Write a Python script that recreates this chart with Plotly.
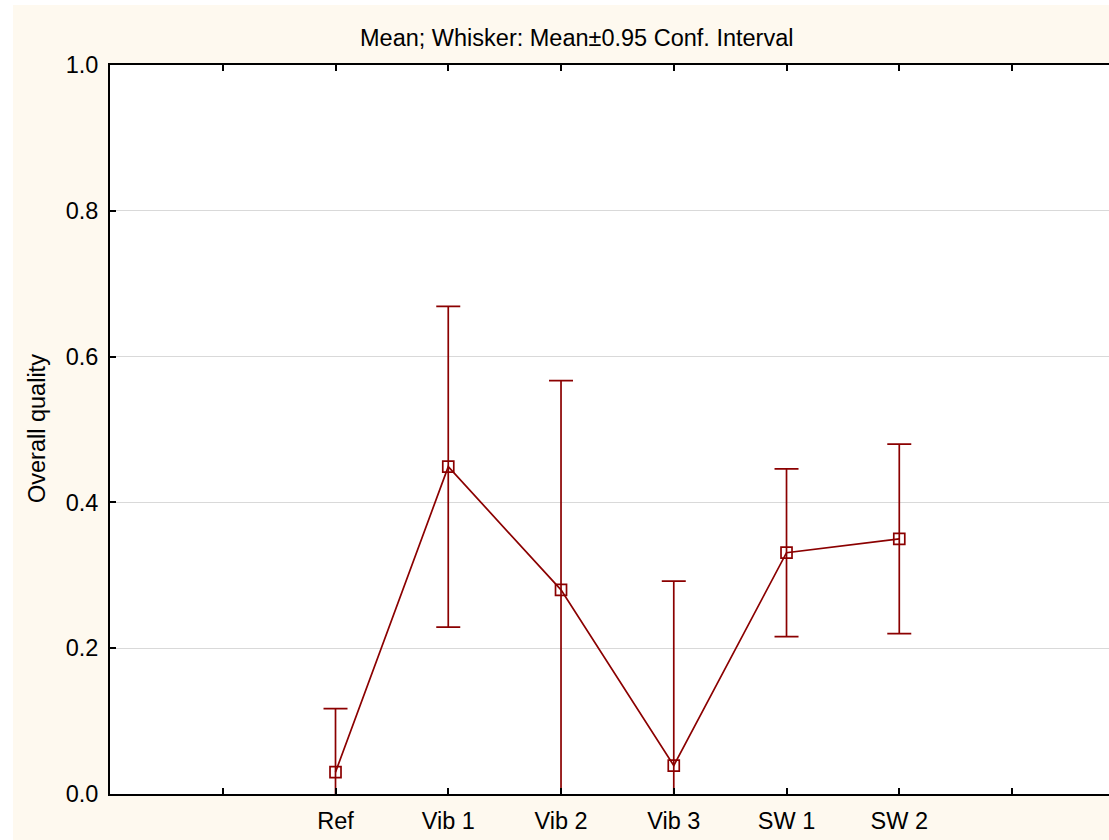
import plotly.graph_objects as go

categories = ["Ref", "Vib 1", "Vib 2", "Vib 3", "SW 1", "SW 2"]
means = [0.030, 0.449, 0.280, 0.039, 0.331, 0.350]
ci95 = [0.087, 0.220, 0.287, 0.253, 0.115, 0.130]
tick_labels = [""] + categories + [""]
y_ticks = [0.0, 0.2, 0.4, 0.6, 0.8, 1.0]

RED = "#8B0000"
CREAM = "#FEF9EF"
FONT = "Arial, Liberation Sans, sans-serif"
FS = 23.5

x_pos = [i + 1 for i in range(len(categories))]

fig = go.Figure()
fig.add_trace(go.Scatter(
    x=x_pos, y=means, mode="lines+markers",
    line=dict(color=RED, width=1.7),
    marker=dict(symbol="square-open", size=11, color=RED, line=dict(color=RED, width=1.7)),
    error_y=dict(type="data", array=ci95, visible=True, color=RED, thickness=1.7, width=12),
    cliponaxis=True, showlegend=False,
))

L, T, B = 110, 65, 46
W, H = 1109, 840
pw = W - L
ph = H - T - B

fig.update_layout(
    width=W, height=H,
    margin=dict(l=L, r=0, t=T, b=B, pad=0),
    paper_bgcolor=CREAM, plot_bgcolor="white",
    font=dict(family=FONT, size=FS, color="black"),
    xaxis=dict(
        range=[-1, 7.86], tickmode="array", tickvals=list(range(len(tick_labels))),
        ticktext=tick_labels, ticks="inside", ticklen=6, tickwidth=1.5, tickcolor="black",
        showline=True, linecolor="black", linewidth=2, mirror="ticks",
        showgrid=False, zeroline=False, tickfont=dict(size=FS), ticklabelstandoff=5,
    ),
    yaxis=dict(
        range=[0, 1], tickmode="array", tickvals=y_ticks,
        ticktext=[f"{v:.1f}" for v in y_ticks], ticks="inside", ticklen=6, tickwidth=1.5,
        tickcolor="black", showline=True, linecolor="black", linewidth=2,
        showgrid=True, gridcolor="#D9D9D9", gridwidth=1, zeroline=False,
        tickfont=dict(size=FS), ticklabelstandoff=5,
    ),
    shapes=[
        dict(type="rect", xref="paper", yref="paper", x0=-0.2, x1=(13 - L) / pw,
             y0=-0.2, y1=1.3, fillcolor="white", line=dict(width=0), layer="below"),
        dict(type="rect", xref="paper", yref="paper", x0=-0.2, x1=1.1,
             y0=(H - B - 5) / ph, y1=1.3, fillcolor="white", line=dict(width=0), layer="below"),
    ],
    annotations=[
        dict(text="Mean; Whisker: Mean±0.95 Conf. Interval", xref="paper", yref="paper",
             x=(576 - L) / pw, y=(H - B - 38) / ph, xanchor="center", yanchor="middle",
             showarrow=False, font=dict(size=FS)),
        dict(text="Overall quality", xref="paper", yref="paper", textangle=-90,
             x=(37 - L) / pw, y=(H - B - 429) / ph, xanchor="center", yanchor="middle",
             showarrow=False, font=dict(size=FS)),
    ],
)

fig.write_html("out.html")
